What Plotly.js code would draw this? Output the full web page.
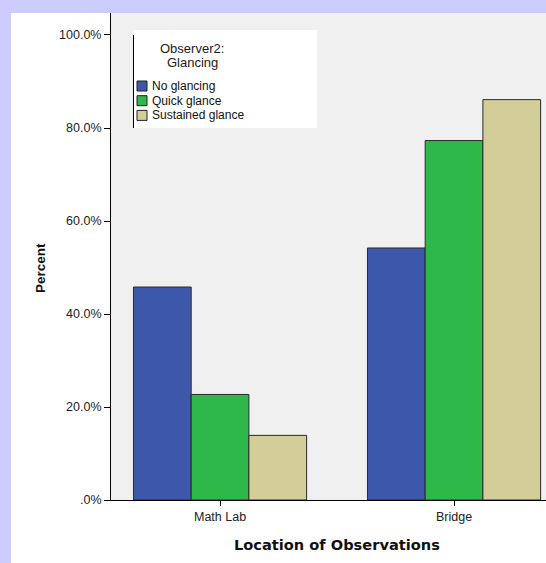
<!DOCTYPE html>
<html>
<head>
<meta charset="utf-8">
<script src="https://cdn.plot.ly/plotly-3.0.1.min.js"></script>
<style>
html,body{margin:0;padding:0;background:#ccccff;width:546px;height:563px;overflow:hidden;}
#chart{position:absolute;left:11px;top:13px;width:535px;height:550px;background:#fff;}
</style>
</head>
<body>
<div id="chart"></div>
<script>
// ---- data ----
const categories = ["Math Lab", "Bridge"];
const seriesNames = ["No glancing", "Quick glance", "Sustained glance"];
const noGlancing = [45.8, 54.2];
const quickGlance = [22.7, 77.3];
const sustainedGlance = [13.9, 86.1];
const yTickVals = [0, 20, 40, 60, 80, 100];
const yTickText = [".0%", "20.0%", "40.0%", "60.0%", "80.0%", "100.0%"];
const legendTitle = ["Observer2:", "Glancing"];
const xTitle = "Location of Observations";
const yTitle = "Percent";

const colors = ["#3d58ab", "#2eb84a", "#d3ce98"];
const seriesValues = [noGlancing, quickGlance, sustainedGlance];

const traces = seriesValues.map((vals, i) => ({
  type: "bar",
  x: categories,
  y: vals,
  name: seriesNames[i],
  marker: {color: colors[i], line: {color: "#2a2a2a", width: 1}},
  hoverinfo: "none"
}));

// page-pixel -> paper helpers (plot area: x 111..546, y 13..500 on page)
const PL = 111, PR = 546, PT = 13, PB = 500;
const px = x => (x - PL) / (PR - PL);
const py = y => (PB - y) / (PB - PT);

const baseFont = "Liberation Sans, Arial, sans-serif";
const shapes = [
  {type: "rect", xref: "paper", yref: "paper", x0: px(133), x1: px(317), y0: py(128), y1: py(30),
   fillcolor: "#ffffff", line: {width: 0}, layer: "above"},
  {type: "line", xref: "paper", yref: "paper", x0: px(133.5), x1: px(133.5), y0: py(128), y1: py(35),
   line: {color: "#000", width: 1}, layer: "above"}
];
const annotations = [];
legendTitle.forEach((t, i) => annotations.push({
  xref: "paper", yref: "paper", x: px(192), y: py(48 + i * 15), text: t, showarrow: false,
  xanchor: "center", yanchor: "middle", font: {family: baseFont, size: 13, color: "#1a1a1a"}
}));
seriesNames.forEach((n, i) => {
  const cy = 86 + i * 14.7;
  shapes.push({type: "rect", xref: "paper", yref: "paper", x0: px(137), x1: px(147), y0: py(cy + 5), y1: py(cy - 5),
    fillcolor: colors[i], line: {color: "#222", width: 1}, layer: "above"});
  annotations.push({xref: "paper", yref: "paper", x: px(150), y: py(cy), text: n, showarrow: false,
    xanchor: "left", yanchor: "middle", font: {family: baseFont, size: 12, color: "#111"}});
});
annotations.push({xref: "x", yref: "paper", x: 0.5, y: py(544), text: "<b>" + xTitle + "</b>", showarrow: false,
  xanchor: "center", yanchor: "middle", font: {family: "DejaVu Sans, sans-serif", size: 14.6, color: "#111"}});
annotations.push({xref: "paper", yref: "paper", x: px(40), y: py(268), text: "<b>" + yTitle + "</b>", showarrow: false,
  textangle: -90, xanchor: "center", yanchor: "middle", font: {family: baseFont, size: 13.5, color: "#111"}});

const layout = {
  width: 535, height: 550,
  margin: {l: 100, r: 0, t: 0, b: 63, pad: 0},
  paper_bgcolor: "#ffffff",
  plot_bgcolor: "#f0f0f0",
  barmode: "group",
  bargap: 0.26,
  bargroupgap: 0,
  showlegend: false,
  xaxis: {
    range: [-0.466, 1.393], showgrid: false, zeroline: false,
    showline: true, linecolor: "#000", linewidth: 1,
    ticks: "outside", ticklen: 5, tickcolor: "#000",
    tickfont: {family: baseFont, size: 12.5, color: "#222"}, fixedrange: true
  },
  yaxis: {
    range: [0, 104.73], showgrid: false, zeroline: false,
    showline: true, linecolor: "#000", linewidth: 1,
    ticks: "outside", ticklen: 6, tickcolor: "#000",
    tickvals: yTickVals, ticktext: yTickText,
    tickfont: {family: baseFont, size: 12.5, color: "#222"}, fixedrange: true
  },
  shapes: shapes,
  annotations: annotations
};

Plotly.newPlot("chart", traces, layout, {displayModeBar: false, staticPlot: true});
</script>
</body>
</html>
